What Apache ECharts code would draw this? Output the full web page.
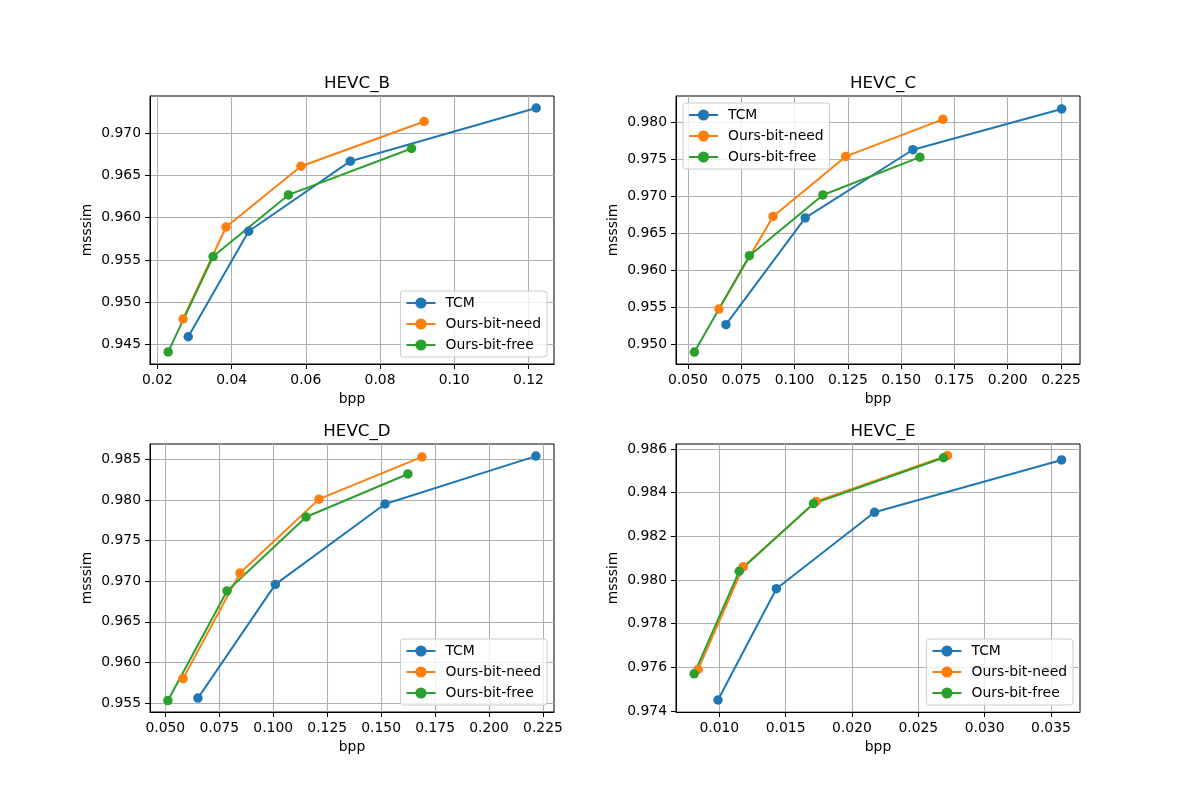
<!DOCTYPE html>
<html>
<head>
<meta charset="utf-8">
<script src="https://cdn.jsdelivr.net/npm/echarts@6/dist/echarts.min.js"></script>
<style>
html, body { margin: 0; padding: 0; background: #fff; }
#main { width: 1200px; height: 800px; }
</style>
</head>
<body>
<div id="main"></div>
<script>
var methodNames = ['TCM', 'Ours-bit-need', 'Ours-bit-free'];
var methodColors = ['#1f77b4', '#ff7f0e', '#2ca02c'];
var panelTitles = ['HEVC_B', 'HEVC_C', 'HEVC_D', 'HEVC_E'];

// HEVC_B
var bTcmBpp = [0.0283, 0.0446, 0.0720, 0.1221];
var bTcmSsim = [0.9459, 0.9584, 0.9667, 0.9730];
var bNeedBpp = [0.0269, 0.0385, 0.0587, 0.0919];
var bNeedSsim = [0.9480, 0.9589, 0.9661, 0.9714];
var bFreeBpp = [0.0229, 0.0350, 0.0553, 0.0885];
var bFreeSsim = [0.9441, 0.9554, 0.9627, 0.9682];
var bXTicks = [0.02, 0.04, 0.06, 0.08, 0.10, 0.12];
var bYTicks = [0.945, 0.950, 0.955, 0.960, 0.965, 0.970];

// HEVC_C
var cTcmBpp = [0.0678, 0.1050, 0.1555, 0.2253];
var cTcmSsim = [0.9527, 0.9671, 0.9763, 0.9818];
var cNeedBpp = [0.0645, 0.0899, 0.1240, 0.1696];
var cNeedSsim = [0.9548, 0.9673, 0.9754, 0.9804];
var cFreeBpp = [0.0530, 0.0788, 0.1133, 0.1588];
var cFreeSsim = [0.9490, 0.9620, 0.9702, 0.9753];
var cXTicks = [0.050, 0.075, 0.100, 0.125, 0.150, 0.175, 0.200, 0.225];
var cYTicks = [0.950, 0.955, 0.960, 0.965, 0.970, 0.975, 0.980];

// HEVC_D
var dTcmBpp = [0.0651, 0.1010, 0.1518, 0.2217];
var dTcmSsim = [0.9556, 0.9696, 0.9795, 0.9854];
var dNeedBpp = [0.0582, 0.0846, 0.1212, 0.1689];
var dNeedSsim = [0.9580, 0.9710, 0.9801, 0.9853];
var dFreeBpp = [0.0512, 0.0786, 0.1152, 0.1624];
var dFreeSsim = [0.9553, 0.9688, 0.9779, 0.9832];
var dXTicks = [0.050, 0.075, 0.100, 0.125, 0.150, 0.175, 0.200, 0.225];
var dYTicks = [0.955, 0.960, 0.965, 0.970, 0.975, 0.980, 0.985];

// HEVC_E
var eTcmBpp = [0.0099, 0.0143, 0.0217, 0.0358];
var eTcmSsim = [0.9745, 0.9796, 0.9831, 0.9855];
var eNeedBpp = [0.0084, 0.0118, 0.0173, 0.0272];
var eNeedSsim = [0.9759, 0.9806, 0.9836, 0.9857];
var eFreeBpp = [0.0081, 0.0115, 0.0171, 0.0269];
var eFreeSsim = [0.9757, 0.9804, 0.9835, 0.9856];
var eXTicks = [0.010, 0.015, 0.020, 0.025, 0.030, 0.035];
var eYTicks = [0.974, 0.976, 0.978, 0.980, 0.982, 0.984, 0.986];

var FONT = 'DejaVu Sans';

// layout of the 4 axes (matplotlib 2x2 subplots)
var panels = [
    { bpp: [bTcmBpp, bNeedBpp, bFreeBpp], ssim: [bTcmSsim, bNeedSsim, bFreeSsim], xt: bXTicks, yt: bYTicks, xd: 2,
      grid: { left: 150, top: 96 }, xr: [0.0180, 0.1269], yr: [0.94267, 0.97442], legend: { right: 653, bottom: 443 } },
    { bpp: [cTcmBpp, cNeedBpp, cFreeBpp], ssim: [cTcmSsim, cNeedSsim, cFreeSsim], xt: cXTicks, yt: cYTicks, xd: 3,
      grid: { left: 676, top: 96 }, xr: [0.04437, 0.23391], yr: [0.94739, 0.98355], legend: { left: 683, top: 103 } },
    { bpp: [dTcmBpp, dNeedBpp, dFreeBpp], ssim: [dTcmSsim, dNeedSsim, dFreeSsim], xt: dXTicks, yt: dYTicks, xd: 3,
      grid: { left: 150, top: 444 }, xr: [0.0429, 0.2301], yr: [0.95389, 0.98689], legend: { right: 653, bottom: 95 } },
    { bpp: [eTcmBpp, eNeedBpp, eFreeBpp], ssim: [eTcmSsim, eNeedSsim, eFreeSsim], xt: eXTicks, yt: eYTicks, xd: 3,
      grid: { left: 676, top: 444 }, xr: [0.006734, 0.03719], yr: [0.97395, 0.98623], legend: { right: 127, bottom: 95 } }
];

var W = 404, H = 268;
var option = {
    backgroundColor: '#ffffff',
    animation: false,
    textStyle: { fontFamily: FONT },
    title: [], grid: [], xAxis: [], yAxis: [], legend: [], series: []
};

panels.forEach(function (p, i) {
    option.title.push({
        text: panelTitles[i],
        left: p.grid.left + W / 2,
        top: p.grid.top - 26,
        textAlign: 'center',
        textStyle: { fontFamily: FONT, fontSize: 16.7, fontWeight: 'normal', color: '#000' }
    });
    option.grid.push({
        left: p.grid.left, top: p.grid.top, width: W, height: H,
        show: true, borderColor: '#000', borderWidth: 1, backgroundColor: 'transparent'
    });
    option.xAxis.push({
        type: 'value', gridIndex: i, min: p.xr[0], max: p.xr[1],
        name: 'bpp', nameLocation: 'middle', nameGap: 28,
        nameTextStyle: { fontFamily: FONT, fontSize: 13.9, color: '#000' },
        axisLine: { show: true, lineStyle: { color: '#000', width: 1 } },
        axisTick: { show: true, inside: false, length: 5, customValues: p.xt, lineStyle: { color: '#000', width: 1 } },
        axisLabel: {
            customValues: p.xt, margin: 9, color: '#000', fontFamily: FONT, fontSize: 13.9,
            formatter: (function (d) { return function (v) { return v.toFixed(d); }; })(p.xd)
        },
        splitLine: { show: true, lineStyle: { color: '#b0b0b0', width: 1.1 } }
    });
    option.yAxis.push({
        type: 'value', gridIndex: i, min: p.yr[0], max: p.yr[1],
        name: 'msssim', nameLocation: 'middle', nameGap: 56,
        nameTextStyle: { fontFamily: FONT, fontSize: 13.9, color: '#000' },
        axisLine: { show: true, lineStyle: { color: '#000', width: 1 } },
        axisTick: { show: true, inside: false, length: 5, customValues: p.yt, lineStyle: { color: '#000', width: 1 } },
        axisLabel: {
            customValues: p.yt, margin: 9, color: '#000', fontFamily: FONT, fontSize: 13.9,
            formatter: function (v) { return v.toFixed(3); }
        },
        splitLine: { show: true, lineStyle: { color: '#b0b0b0', width: 1.1 } }
    });
    var lg = {
        orient: 'vertical',
        data: methodNames,
        itemWidth: 29, itemHeight: 14, itemGap: 7,
        padding: [5, 6, 5, 5],
        backgroundColor: 'rgba(255,255,255,0.8)',
        borderColor: '#cccccc', borderWidth: 1, borderRadius: 3,
        textStyle: { fontFamily: FONT, fontSize: 13.9, color: '#000', padding: [0, 0, 0, 5] },
        selectedMode: false
    };
    for (var k in p.legend) lg[k] = p.legend[k];
    option.legend.push(lg);

    methodNames.forEach(function (name, m) {
        option.series.push({
            name: name, type: 'line', xAxisIndex: i, yAxisIndex: i,
            data: p.bpp[m].map(function (x, j) { return [x, p.ssim[m][j]]; }),
            symbol: 'circle', symbolSize: 9.5, showSymbol: true,
            itemStyle: { color: methodColors[m] },
            lineStyle: { color: methodColors[m], width: 2 },
            emphasis: { disabled: true }
        });
    });
});

var chart = echarts.init(document.getElementById('main'));
chart.setOption(option);
</script>
</body>
</html>
